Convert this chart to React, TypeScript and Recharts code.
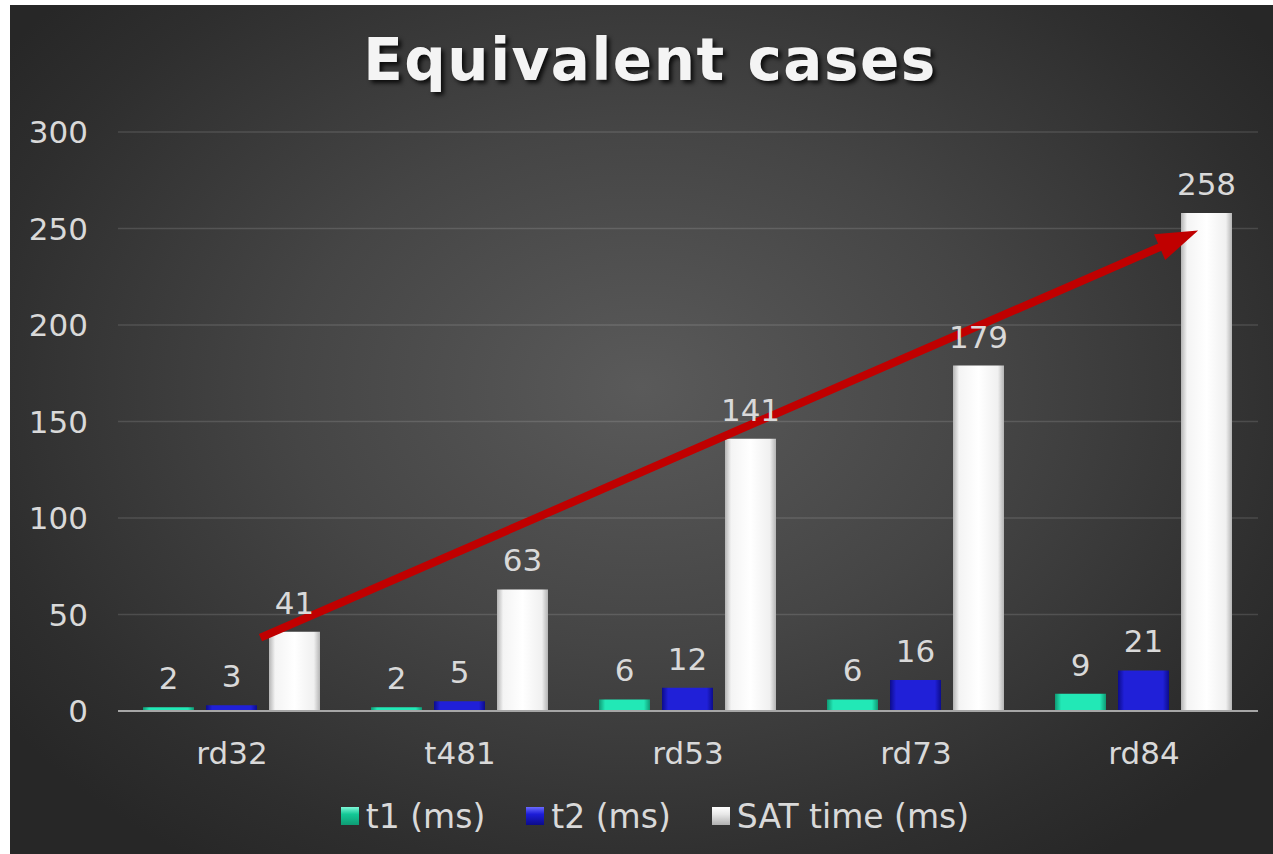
import React from 'react';
import {
  Bar,
  BarChart,
  CartesianGrid,
  LabelList,
  Legend,
  ReferenceLine,
  XAxis,
  YAxis,
} from 'recharts';

const CATEGORIES = ['rd32', 't481', 'rd53', 'rd73', 'rd84'];
const T1 = [2, 2, 6, 6, 9];
const T2 = [3, 5, 12, 16, 21];
const SAT = [41, 63, 141, 179, 258];
const Y_TICKS = [0, 50, 100, 150, 200, 250, 300];

// trend arrow, x on a 0..4 scale spanning the plot width, y in value units
const ARROW = [
  { x: 0.5, y: 38 },
  { x: 3.79, y: 249 },
];

const SERIES = [
  { key: 't1', name: 't1 (ms)', grad: 'gT1', swatch: 'linear-gradient(180deg,#7ff8d8,#14c896 40%,#0e9c74)' },
  { key: 't2', name: 't2 (ms)', grad: 'gT2', swatch: 'linear-gradient(180deg,#6a6aff,#1c1cd8 40%,#0c0c8a)' },
  { key: 'sat', name: 'SAT time (ms)', grad: 'gSAT', swatch: 'linear-gradient(180deg,#ffffff,#e8e8e8 40%,#b0b0b0)' },
];

const data = CATEGORIES.map((name, i) => ({ name, t1: T1[i], t2: T2[i], sat: SAT[i] }));

const FONT = '"DejaVu Sans", Verdana, sans-serif';
const TEXT = '#d9d9d9';
const FS = 31;

function Arrow(props: any) {
  const { x1, y1, x2, y2 } = props;
  const ang = Math.atan2(y2 - y1, x2 - x1);
  const len = 42;
  const half = 14;
  const bx = x2 - Math.cos(ang) * len;
  const by = y2 - Math.sin(ang) * len;
  const nx = -Math.sin(ang);
  const ny = Math.cos(ang);
  return (
    <g>
      <line x1={x1} y1={y1} x2={bx + Math.cos(ang) * 4} y2={by + Math.sin(ang) * 4} stroke="#c00000" strokeWidth={8} />
      <polygon
        points={`${x2},${y2} ${bx + nx * half},${by + ny * half} ${bx - nx * half},${by - ny * half}`}
        fill="#c00000"
      />
    </g>
  );
}

function LegendContent() {
  return (
    <div
      style={{
        display: 'flex',
        justifyContent: 'center',
        alignItems: 'center',
        gap: 41,
        height: 40,
        paddingLeft: 42,
        fontFamily: FONT,
        fontSize: 33,
        color: TEXT,
      }}
    >
      {SERIES.map((s) => (
        <div key={s.key} style={{ display: 'flex', alignItems: 'center', gap: 7 }}>
          <span style={{ width: 18, height: 18, background: s.swatch, display: 'inline-block' }} />
          <span>{s.name}</span>
        </div>
      ))}
    </div>
  );
}

export default function App() {
  return (
    <div
      style={{
        position: 'absolute',
        left: 10,
        top: 5,
        width: 1263,
        height: 849,
        background: 'radial-gradient(ellipse 62% 68% at 50% 45%, #5a5a5a 0%, #454545 45%, #2e2e2e 85%, #272727 100%)',
        overflow: 'hidden',
      }}
    >
      <div
        style={{
          position: 'absolute',
          left: 0,
          width: 1280,
          top: 21,
          textAlign: 'center',
          fontFamily: FONT,
          fontWeight: 'bold',
          fontSize: 58,
          letterSpacing: 1.5,
          color: '#f4f4f4',
          textShadow: '3px 3px 4px rgba(0,0,0,0.8)',
        }}
      >
        Equivalent cases
      </div>
      <BarChart
        width={1263}
        height={849}
        data={data}
        margin={{ top: 127, right: 15, left: 0, bottom: 18 }}
        barGap={12}
        barCategoryGap={25}
      >
        <defs>
          <linearGradient id="gT1" x1="0" y1="0" x2="1" y2="0">
            <stop offset="0%" stopColor="#0f9a74" />
            <stop offset="12%" stopColor="#22e8b6" />
            <stop offset="88%" stopColor="#22e8b6" />
            <stop offset="100%" stopColor="#0f9a74" />
          </linearGradient>
          <linearGradient id="gT2" x1="0" y1="0" x2="1" y2="0">
            <stop offset="0%" stopColor="#0c0c8c" />
            <stop offset="12%" stopColor="#2020d8" />
            <stop offset="88%" stopColor="#2020d8" />
            <stop offset="100%" stopColor="#0c0c8c" />
          </linearGradient>
          <linearGradient id="gSAT" x1="0" y1="0" x2="1" y2="0">
            <stop offset="0%" stopColor="#b4b4b4" />
            <stop offset="12%" stopColor="#f4f4f4" />
            <stop offset="50%" stopColor="#ffffff" />
            <stop offset="88%" stopColor="#f0f0f0" />
            <stop offset="100%" stopColor="#b4b4b4" />
          </linearGradient>
        </defs>
        <CartesianGrid vertical={false} stroke="rgba(255,255,255,0.13)" strokeWidth={1.5} />
        <XAxis
          dataKey="name"
          height={85}
          tickLine={false}
          tickSize={0}
          tickMargin={31}
          axisLine={{ stroke: '#a6a6a6', strokeWidth: 2 }}
          tick={{ fill: TEXT, fontSize: FS, fontFamily: FONT }}
        />
        <XAxis xAxisId="arrow" type="number" domain={[0, 4]} allowDataOverflow hide />
        <YAxis
          width={108}
          domain={[0, 300]}
          ticks={Y_TICKS}
          axisLine={false}
          tickLine={false}
          tickSize={0}
          tickMargin={30}
          tick={{ fill: TEXT, fontSize: FS, fontFamily: FONT }}
        />
        <Legend verticalAlign="bottom" content={<LegendContent />} />
        {SERIES.map((s) => (
          <Bar key={s.key} dataKey={s.key} name={s.name} fill={`url(#${s.grad})`} isAnimationActive={false}>
            <LabelList
              dataKey={s.key}
              position="top"
              offset={18}
              style={{ fill: TEXT, fontSize: FS, fontFamily: FONT }}
            />
          </Bar>
        ))}
        <ReferenceLine xAxisId="arrow" segment={ARROW} shape={Arrow} ifOverflow="visible" />
      </BarChart>
    </div>
  );
}
